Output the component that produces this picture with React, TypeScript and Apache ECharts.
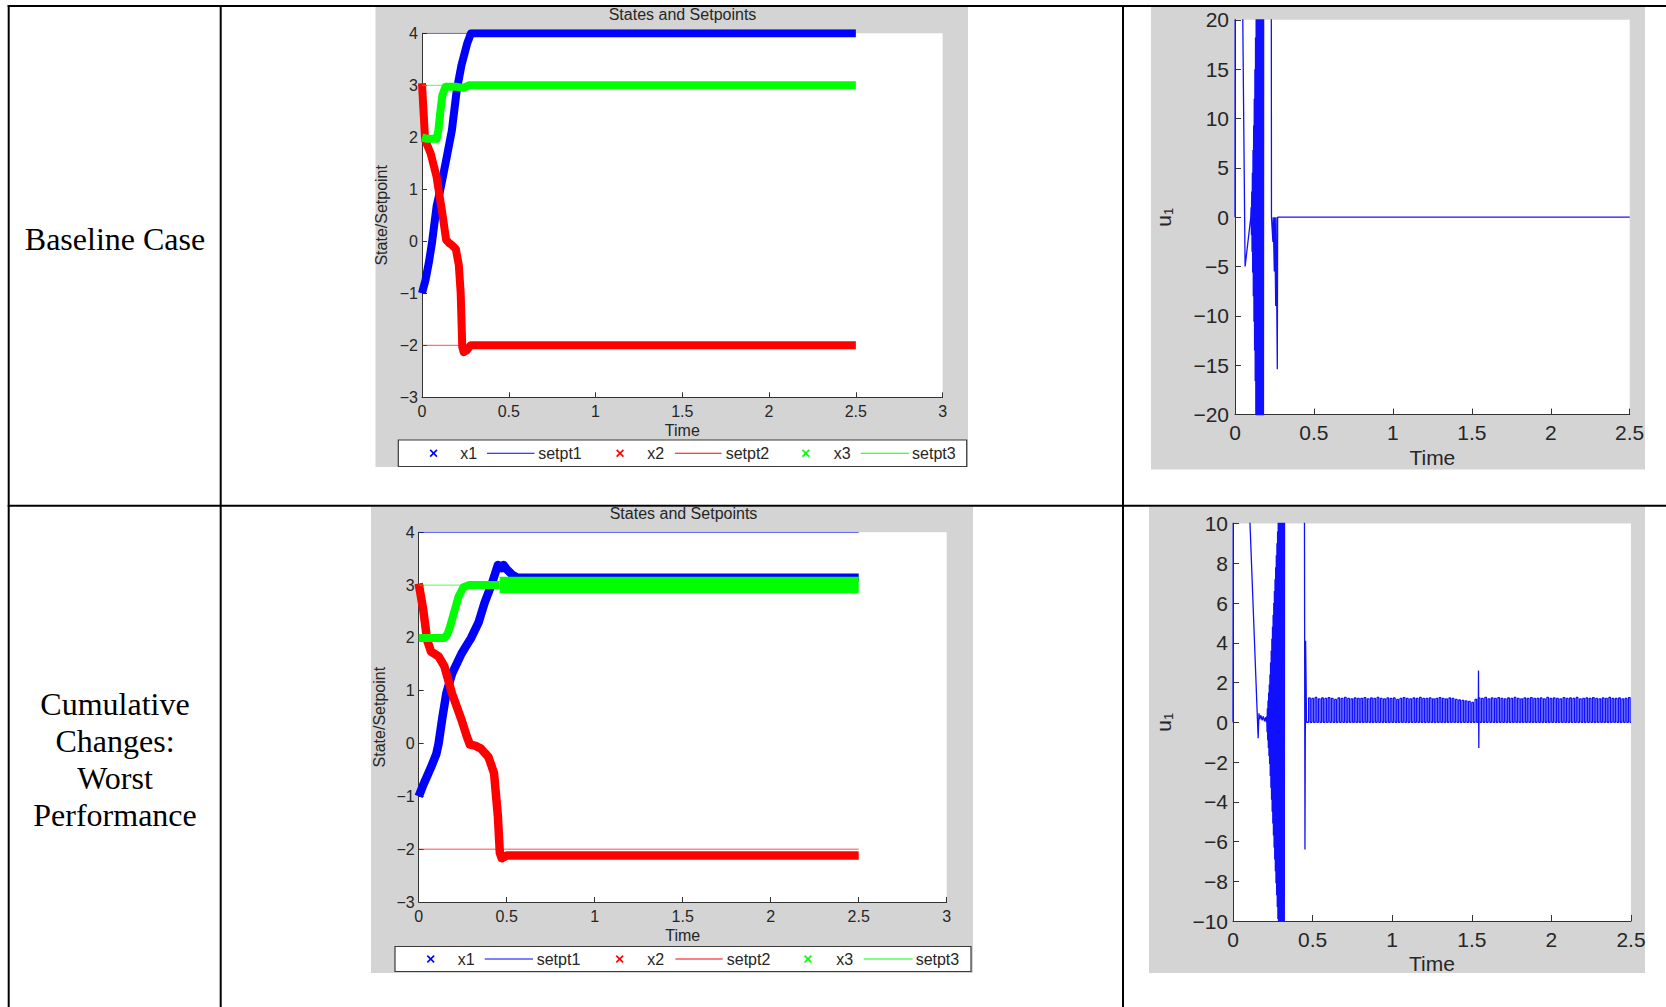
import React, { useEffect, useRef } from "react";
import * as echarts from "echarts";

// ---------- text ----------
const ROW_LABEL_BASELINE = ["Baseline Case"];
const ROW_LABEL_WORST = ["Cumulative", "Changes:", "Worst", "Performance"];
const STATES_TITLE = "States and Setpoints";
const STATES_Y_NAME = "State/Setpoint";
const TIME_NAME = "Time";
const LEGEND_LABELS = ["x1", "setpt1", "x2", "setpt2", "x3", "setpt3"];

// ---------- axis ranges: [min, max, step] ----------
const STATES_X_RANGE = [0, 3, 0.5];
const STATES_Y_RANGE = [-3, 4, 1];
const U1_X_RANGE = [0, 2.5, 0.5];
const U1_BASE_Y_RANGE = [-20, 20, 5];
const U1_WORST_Y_RANGE = [-10, 10, 2];

// ---------- setpoints ----------
const SETPOINTS = [4, -2, 3];
const SETPOINT_SPAN = [0, 2.5];

// ---------- baseline case: states [t, value] ----------
const X1_BASE = [[0, -1], [0.02, -0.75], [0.04, -0.4], [0.057, -0.04], [0.084, 0.67], [0.106, 1.0], [0.139, 1.56], [0.172, 2.13], [0.2, 2.9], [0.227, 3.38], [0.26, 3.8], [0.282, 4.0], [2.5, 4.0]];
const X2_BASE = [[0, 3.04], [0.008, 2.55], [0.018, 1.95], [0.05, 1.69], [0.084, 1.24], [0.117, 0.54], [0.139, 0.03], [0.155, -0.03], [0.172, -0.07], [0.195, -0.15], [0.212, -0.45], [0.223, -1.0], [0.232, -2.03], [0.24, -2.13], [0.258, -2.1], [0.28, -2.0], [2.5, -2.0]];
const X3_BASE = [[0, 2.0], [0.03, 1.97], [0.084, 1.97], [0.095, 2.15], [0.106, 2.5], [0.117, 2.8], [0.135, 2.97], [0.2, 2.97], [0.24, 2.95], [0.27, 3.0], [2.5, 3.0]];

// ---------- worst performance: states [t, value] ----------
const X1_WORST = [[0, -1], [0.03, -0.75], [0.07, -0.45], [0.1, -0.2], [0.113, 0.0], [0.135, 0.5], [0.157, 0.95], [0.19, 1.33], [0.243, 1.7], [0.27, 1.85], [0.298, 2.0], [0.341, 2.3], [0.374, 2.66], [0.417, 3.04], [0.45, 3.38], [0.462, 3.36], [0.472, 3.32], [0.482, 3.38], [0.5, 3.3], [0.53, 3.2], [0.56, 3.14], [2.5, 3.14]];
const X2_WORST = [[0, 3.03], [0.012, 2.8], [0.026, 2.53], [0.048, 1.96], [0.07, 1.74], [0.113, 1.65], [0.146, 1.46], [0.189, 0.95], [0.243, 0.45], [0.275, 0.12], [0.291, -0.02], [0.32, -0.04], [0.352, -0.09], [0.396, -0.25], [0.428, -0.56], [0.45, -1.38], [0.461, -2.07], [0.472, -2.17], [0.5, -2.12], [2.5, -2.12]];
const X3_WORST = [[0, 2.0], [0.146, 2.0], [0.163, 2.07], [0.178, 2.21], [0.204, 2.52], [0.226, 2.78], [0.254, 2.96], [0.287, 3.0], [0.46, 3.0]];
// chattering steady state of x3 (mean value, drawn as a wide band)
const X3_WORST_STEADY = [[0.46, 3.0], [2.5, 3.0]];

// ---------- baseline case: control input u1 ----------
const U1_BASE_START = [[0, 0], [0.002, 40], [0.045, 40], [0.049, 20.5], [0.064, -5], [0.1, 0]];
const U1_BASE_OSC_T0 = 0.102;
const U1_BASE_OSC_DT = 0.002;
const U1_BASE_OSC = [1, -1.8, 2.6, -3.5, 4.5, -5.6, 6.8, -8, 9.3, -10.6, 12, -13.5, 15, -16.6, 18.2, -20, 22, -24, 26, -28, 30, -30, 30, -30, 30, -30, 30, -30, 30, -30, 30, -30, 30, -30, 30, -30, 30, -30, 30, -30];
const U1_BASE_END = [[0.182, 40], [0.229, 40], [0.231, 0], [0.24, -2.5], [0.242, 0], [0.249, -5.5], [0.251, 0], [0.258, -9], [0.26, 0], [0.268, -15.4], [0.27, 0], [2.5, 0]];

// ---------- worst performance: control input u1 ----------
const U1_WORST_START = [[0, 0], [0.002, 15], [0.083, 15], [0.158, -0.8], [0.163, 0.45], [0.168, 0.15], [0.175, 0.35], [0.183, 0.1], [0.19, 0.3], [0.198, 0.05], [0.205, 0.25], [0.21, 0]];
const U1_WORST_OSC_T0 = 0.212;
const U1_WORST_OSC_DT = 0.002;
const U1_WORST_OSC = [0.3, -0.5, 0.7, -0.9, 1.1, -1.3, 1.5, -1.7, 1.9, -2.1, 2.4, -2.7, 3.0, -3.3, 3.6, -3.9, 4.2, -4.5, 4.8, -5.1, 5.4, -5.7, 6.0, -6.3, 6.6, -6.9, 7.2, -7.5, 7.8, -8.1, 8.4, -8.7, 9.0, -9.3, 9.6, -9.9, 10.2, -10.5, 10.8, -11.1, 11.4, -11.7, 12, -12.5, 13, -13.5, 14, -14.5, 15, -15, 15, -15, 15, -15, 15, -15, 15, 15];
const U1_WORST_MID = [[0.448, 15], [0.452, -6.4], [0.456, 4.1], [0.462, 0], [0.475, 0]];
// switching pulses after t = 0.475 (peak of each pulse)
const U1_WORST_PULSE_T0 = 0.475;
const U1_WORST_PULSE_DT = 0.0205;
const U1_WORST_PULSE_PEAKS = [
  1.22, 1.2, 1.25, 1.18, 1.22, 1.2, 1.24, 1.2, 1.15, 1.22,
  1.2, 1.25, 1.2, 1.18, 1.22, 1.2, 1.2, 1.24, 1.18, 1.22,
  1.2, 1.25, 1.2, 1.18, 1.22, 1.2, 1.22, 1.15, 1.2, 1.24,
  1.2, 1.18, 1.22, 1.2, 1.25, 1.2, 1.2, 1.22, 1.18, 1.2,
  1.24, 1.2, 1.18, 1.22, 1.2, 1.15, 1.12, 1.1, 1.08, 1.05,
  1.0, 1.15, 1.22, 1.2, 1.25, 1.18, 1.22, 1.2, 1.24, 1.2,
  1.18, 1.22, 1.2, 1.25, 1.2, 1.18, 1.22, 1.2, 1.24, 1.2,
  1.2, 1.22, 1.18, 1.25, 1.2, 1.22, 1.2, 1.18, 1.24, 1.2,
  1.22, 1.2, 1.25, 1.18, 1.2, 1.22, 1.2, 1.24, 1.2, 1.18,
  1.22, 1.2, 1.25, 1.2, 1.2, 1.22, 1.18, 1.2, 1.24,
];
const U1_WORST_BLIP = [[1.541, 0], [1.542, 2.6], [1.544, -1.3], [1.545, 0]];
const U1_WORST_END = [[2.5, 0]];

// ---------- styling ----------
const SANS = '"Liberation Sans", Arial, Helvetica, sans-serif';
const SERIF = '"Liberation Serif", "Times New Roman", serif';
const INK = "#262626";
const AXIS_INK = "#333333";
const PANEL = "#d4d4d4";
const BLUE = "#0000ff";
const RED = "#ff0000";
const GREEN = "#00ff00";

const fmtMinus = (v: number) => (v < 0 ? "\u2212" + String(Math.abs(v)) : String(v));

function sampled(t0: number, dt: number, values: number[]) {
  return values.map((v, i) => [+(t0 + i * dt).toFixed(4), v]);
}

function pulseTrain(t0: number, dt: number, peaks: number[]) {
  const pts: number[][] = [];
  peaks.forEach((h, i) => {
    const t = t0 + i * dt;
    const t2 = t + dt / 2;
    pts.push([t, 0], [t, h], [t2, h], [t2, 0]);
  });
  return pts;
}

function setpointLine(v: number) {
  return [[SETPOINT_SPAN[0], v], [SETPOINT_SPAN[1], v]];
}

function xAxisCfg(gridIndex: number, range: number[], fontSize: number, margin: number, nameGap: number, tick: number) {
  return {
    type: "value",
    gridIndex,
    min: range[0],
    max: range[1],
    interval: range[2],
    axisLine: { show: true, onZero: false, lineStyle: { color: AXIS_INK, width: 1 } },
    axisTick: { show: true, inside: true, length: tick, lineStyle: { color: AXIS_INK, width: 1 } },
    axisLabel: { show: true, color: INK, fontSize, fontFamily: SANS, margin, formatter: fmtMinus },
    splitLine: { show: false },
    name: TIME_NAME,
    nameLocation: "middle",
    nameGap,
    nameTextStyle: { color: INK, fontSize, fontFamily: SANS },
  };
}

function yAxisCfg(gridIndex: number, range: number[], fontSize: number, margin: number, tick: number, name: any, nameGap: number, nameStyle: any) {
  return {
    type: "value",
    gridIndex,
    min: range[0],
    max: range[1],
    interval: range[2],
    axisLine: { show: true, onZero: false, lineStyle: { color: AXIS_INK, width: 1 } },
    axisTick: { show: true, inside: true, length: tick, lineStyle: { color: AXIS_INK, width: 1 } },
    axisLabel: { show: true, color: INK, fontSize, fontFamily: SANS, margin, formatter: fmtMinus },
    splitLine: { show: false },
    name,
    nameLocation: "middle",
    nameRotate: 90,
    nameGap,
    nameTextStyle: nameStyle,
  };
}

function stateSeries(axis: number, name: string, data: number[][], color: string, width: number) {
  return {
    type: "line",
    name,
    xAxisIndex: axis,
    yAxisIndex: axis,
    data,
    symbol: "none",
    lineStyle: { color, width, join: "round", cap: "butt" },
    silent: true,
  };
}

function setptSeries(axis: number, name: string, v: number, color: string) {
  return {
    type: "line",
    name,
    xAxisIndex: axis,
    yAxisIndex: axis,
    data: setpointLine(v),
    symbol: "none",
    lineStyle: { color, width: 1, opacity: 0.7 },
    silent: true,
  };
}

function controlSeries(axis: number, name: string, data: number[][]) {
  return {
    type: "line",
    name,
    xAxisIndex: axis,
    yAxisIndex: axis,
    data,
    symbol: "none",
    lineStyle: { color: "#1010ff", width: 1.3 },
    silent: true,
  };
}

// legend layout offsets, in px from the box's left edge for a 569 px wide box
const LEGEND_GROUPS = [
  { color: BLUE, cross: 35.3, xText: 62, lineA: 88.7, lineB: 136.3, sText: 140 },
  { color: RED, cross: 222, xText: 249.3, lineA: 277, lineB: 323.7, sText: 327.7 },
  { color: GREEN, cross: 408, xText: 436, lineA: 463, lineB: 511.3, sText: 514.3 },
];

function legendGraphics(x: number, y: number, w: number, h: number) {
  const s = w / 569;
  const cy = y + h / 2;
  const els: any[] = [
    { type: "rect", shape: { x, y, width: w, height: h }, style: { fill: "#ffffff", stroke: "#3a3a3a", lineWidth: 1.2 }, z: 5, silent: true },
  ];
  LEGEND_GROUPS.forEach((g, k) => {
    const cx = x + g.cross * s;
    const r = 3.4;
    els.push(
      { type: "line", shape: { x1: cx - r, y1: cy - r, x2: cx + r, y2: cy + r }, style: { stroke: g.color, lineWidth: 1.6 }, z: 6, silent: true },
      { type: "line", shape: { x1: cx - r, y1: cy + r, x2: cx + r, y2: cy - r }, style: { stroke: g.color, lineWidth: 1.6 }, z: 6, silent: true },
      { type: "line", shape: { x1: x + g.lineA * s, y1: cy, x2: x + g.lineB * s, y2: cy }, style: { stroke: g.color, lineWidth: 1.2 }, z: 6, silent: true },
      {
        type: "text", x: x + g.xText * s, y: cy, z: 6, silent: true,
        style: { text: LEGEND_LABELS[k * 2], fill: INK, font: `16px ${SANS}`, align: "left", verticalAlign: "middle", textAlign: "left", textVerticalAlign: "middle" },
      },
      {
        type: "text", x: x + g.sText * s, y: cy, z: 6, silent: true,
        style: { text: LEGEND_LABELS[k * 2 + 1], fill: INK, font: `16px ${SANS}`, align: "left", verticalAlign: "middle", textAlign: "left", textVerticalAlign: "middle" },
      }
    );
  });
  return els;
}

function centeredText(text: string, x: number, y: number, font: string, fill: string, rotation = 0) {
  return {
    type: "text", x, y, rotation, z: 6, silent: true,
    style: { text, fill, font, align: "center", verticalAlign: "middle", textAlign: "center", textVerticalAlign: "middle" },
  };
}

function tableLine(x1: number, y1: number, x2: number, y2: number) {
  return { type: "line", shape: { x1, y1, x2, y2 }, style: { stroke: "#000000", lineWidth: 2 }, z: 10, silent: true };
}

function panel(x: number, y: number, w: number, h: number) {
  return { type: "rect", shape: { x, y, width: w, height: h }, style: { fill: PANEL }, z: -1, silent: true };
}

function buildOption() {
  const u1Base = [
    ...U1_BASE_START,
    ...sampled(U1_BASE_OSC_T0, U1_BASE_OSC_DT, U1_BASE_OSC),
    ...U1_BASE_END,
  ];
  const u1Worst = [
    ...U1_WORST_START,
    ...sampled(U1_WORST_OSC_T0, U1_WORST_OSC_DT, U1_WORST_OSC),
    ...U1_WORST_MID,
    ...pulseTrain(U1_WORST_PULSE_T0, U1_WORST_PULSE_DT, U1_WORST_PULSE_PEAKS),
    ...U1_WORST_END,
  ];

  const u1Name = "{u|u}{s|1}";
  const u1NameStyle = {
    color: INK,
    rich: {
      u: { fontSize: 21, fontFamily: SANS, color: INK, lineHeight: 24 },
      s: { fontSize: 13, fontFamily: SANS, color: INK, lineHeight: 10, verticalAlign: "bottom" },
    },
  };
  const statesNameStyle = { color: INK, fontSize: 16, fontFamily: SANS };

  const graphics: any[] = [
    panel(375.5, 7, 592.5, 460),
    panel(1151, 7, 494, 462.5),
    panel(371, 507, 602, 466),
    panel(1149, 507, 496, 466),
    // table rules
    tableLine(7.7, 6, 1666, 6),
    tableLine(7.7, 505.7, 1666, 505.7),
    tableLine(8.7, 5, 8.7, 1007),
    tableLine(220.7, 5, 220.7, 1007),
    tableLine(1123, 5, 1123, 1007),
    // row labels
    centeredText(ROW_LABEL_BASELINE[0], 115, 239, `32px ${SERIF}`, "#000000"),
    ...ROW_LABEL_WORST.map((t, i) => centeredText(t, 115, 703.5 + i * 37, `32px ${SERIF}`, "#000000")),
    // titles
    centeredText(STATES_TITLE, 682.5, 14.5, `16px ${SANS}`, INK),
    centeredText(STATES_TITLE, 683.5, 513.5, `16px ${SANS}`, INK),
    // legends
    ...legendGraphics(398.3, 440, 568.4, 26.5),
    ...legendGraphics(395, 946.5, 576, 25),
  ];

  return {
    animation: false,
    backgroundColor: "#ffffff",
    grid: [
      { left: 422, top: 33.3, width: 520.6, height: 364, show: true, backgroundColor: "#ffffff", borderWidth: 0 },
      { left: 1235, top: 19.8, width: 394.7, height: 394.8, show: true, backgroundColor: "#ffffff", borderWidth: 0 },
      { left: 418.7, top: 532.3, width: 528, height: 369.7, show: true, backgroundColor: "#ffffff", borderWidth: 0 },
      { left: 1233, top: 523.5, width: 398, height: 397.5, show: true, backgroundColor: "#ffffff", borderWidth: 0 },
    ],
    xAxis: [
      xAxisCfg(0, STATES_X_RANGE, 16, 6, 25, 5),
      xAxisCfg(1, U1_X_RANGE, 21, 7.5, 32.5, 6),
      xAxisCfg(2, STATES_X_RANGE, 16, 6, 25, 5),
      xAxisCfg(3, U1_X_RANGE, 21, 8, 31.5, 6),
    ],
    yAxis: [
      yAxisCfg(0, STATES_Y_RANGE, 16, 4, 5, STATES_Y_NAME, 32.5, statesNameStyle),
      yAxisCfg(1, U1_BASE_Y_RANGE, 21, 6, 6, u1Name, 60, u1NameStyle),
      yAxisCfg(2, STATES_Y_RANGE, 16, 4, 5, STATES_Y_NAME, 31, statesNameStyle),
      yAxisCfg(3, U1_WORST_Y_RANGE, 21, 5, 6, u1Name, 58, u1NameStyle),
    ],
    series: [
      // baseline states
      stateSeries(0, "x1", X1_BASE, BLUE, 8),
      setptSeries(0, "setpt1", SETPOINTS[0], BLUE),
      stateSeries(0, "x2", X2_BASE, RED, 8),
      setptSeries(0, "setpt2", SETPOINTS[1], RED),
      stateSeries(0, "x3", X3_BASE, GREEN, 8),
      setptSeries(0, "setpt3", SETPOINTS[2], GREEN),
      // baseline control
      controlSeries(1, "u1", u1Base),
      // worst states
      stateSeries(2, "x1", X1_WORST, BLUE, 8.5),
      setptSeries(2, "setpt1", SETPOINTS[0], BLUE),
      stateSeries(2, "x2", X2_WORST, RED, 8.5),
      setptSeries(2, "setpt2", SETPOINTS[1], RED),
      stateSeries(2, "x3", X3_WORST, GREEN, 8),
      stateSeries(2, "x3", X3_WORST_STEADY, GREEN, 16.5),
      setptSeries(2, "setpt3", SETPOINTS[2], GREEN),
      // worst control
      controlSeries(3, "u1", u1Worst),
      controlSeries(3, "u1", U1_WORST_BLIP),
    ],
    graphic: { elements: graphics },
  };
}

export default function App() {
  const ref = useRef<HTMLDivElement>(null);
  useEffect(() => {
    if (!ref.current) return;
    const chart = echarts.init(ref.current, undefined, { renderer: "svg" });
    chart.setOption(buildOption() as any);
    return () => chart.dispose();
  }, []);
  return (
    <div
      ref={ref}
      style={{ position: "fixed", left: 0, top: 0, width: 1666, height: 1007, background: "#ffffff" }}
    />
  );
}
